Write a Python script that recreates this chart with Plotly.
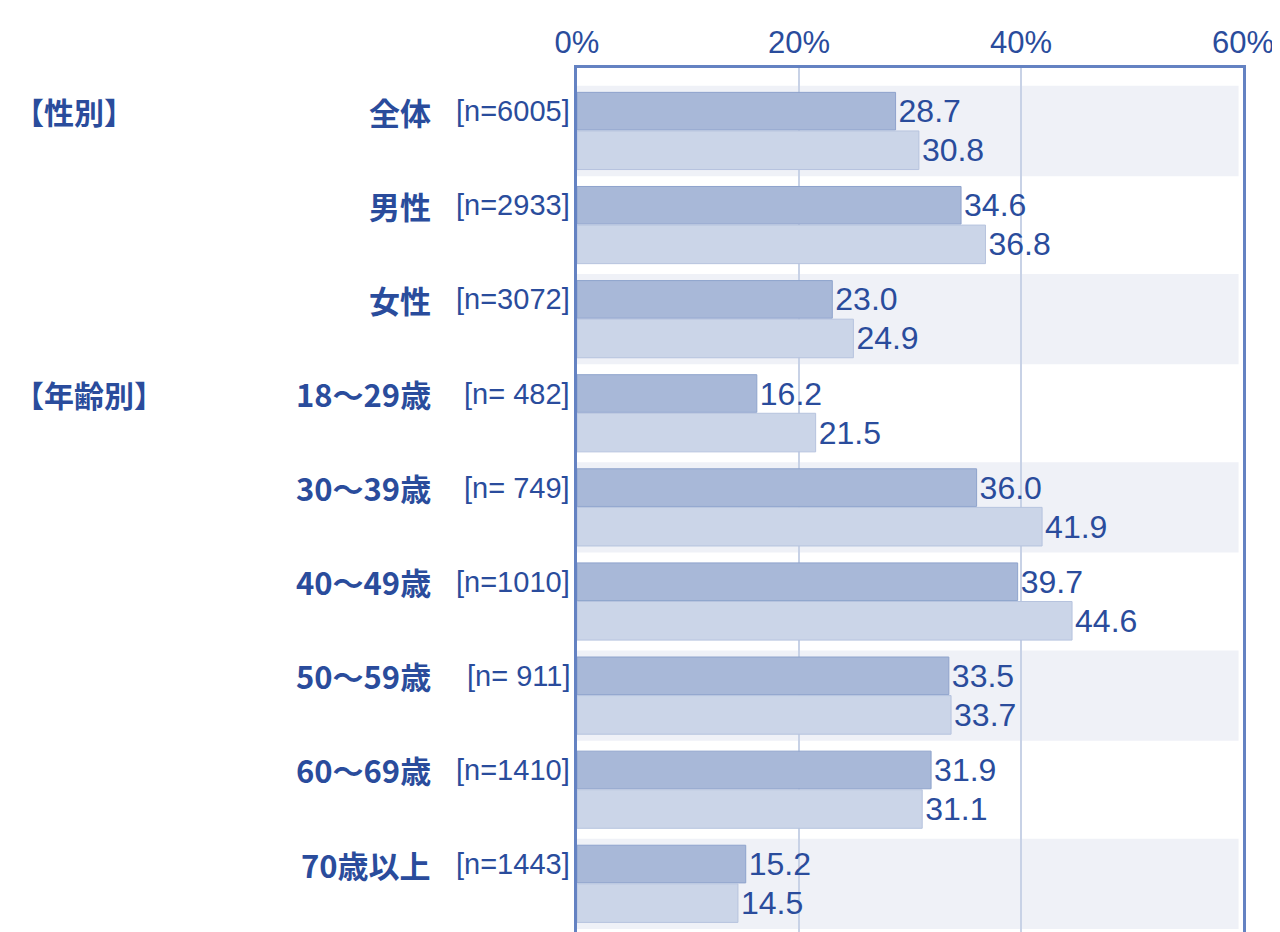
import plotly.graph_objects as go

categories = ["全体", "男性", "女性", "18～29歳", "30～39歳", "40～49歳", "50～59歳", "60～69歳", "70歳以上"]
sample_sizes = ["[n=6005]", "[n=2933]", "[n=3072]", "[n= 482]", "[n= 749]", "[n=1010]", "[n= 911]", "[n=1410]", "[n=1443]"]
series_a = [28.7, 34.6, 23.0, 16.2, 36.0, 39.7, 33.5, 31.9, 15.2]
series_b = [30.8, 36.8, 24.9, 21.5, 41.9, 44.6, 33.7, 31.1, 14.5]
section_labels = ["【性別】", "【年齢別】"]
section_rows = [0, 3]
tick_values = [0, 20, 40, 60]
tick_labels = ["0%", "20%", "40%", "60%"]

BLUE = "#2a4c9c"
LATIN = "Liberation Sans, Arial, sans-serif"
idx = list(range(len(categories)))

fig = go.Figure()
fig.add_trace(go.Bar(
    y=idx, x=series_a, orientation="h", width=0.40, offset=-0.41,
    marker=dict(color="#a8b8d8", line=dict(color="#8ea3cc", width=1)),
    text=series_a, texttemplate="%{x:.1f}", textposition="outside",
    textfont=dict(family=LATIN, size=32, color=BLUE),
    constraintext="none", cliponaxis=False, showlegend=False,
))
fig.add_trace(go.Bar(
    y=idx, x=series_b, orientation="h", width=0.41, offset=0.0,
    marker=dict(color="#cbd5e8", line=dict(color="#b6c3de", width=1)),
    text=series_b, texttemplate="%{x:.1f}", textposition="outside",
    textfont=dict(family=LATIN, size=32, color=BLUE),
    constraintext="none", cliponaxis=False, showlegend=False,
))

shapes = []
for i in idx:
    if i % 2 == 0:
        shapes.append(dict(type="rect", xref="x", yref="y", x0=0, x1=59.6,
                           y0=i - 0.48, y1=i + 0.48, fillcolor="#eff1f7",
                           line=dict(width=0), layer="below"))

annotations = []
for i, (c, n) in enumerate(zip(categories, sample_sizes)):
    annotations.append(dict(xref="paper", yref="y", x=-0.216, y=i - 0.21, text="<b>" + c + "</b>",
                            showarrow=False, xanchor="right", yanchor="middle",
                            font=dict(family="Noto Sans CJK JP", size=31, color=BLUE)))
    annotations.append(dict(xref="paper", yref="y", x=-0.008, y=i - 0.21, text=n,
                            showarrow=False, xanchor="right", yanchor="middle",
                            font=dict(family=LATIN, size=29, color=BLUE)))
for s, r in zip(section_labels, section_rows):
    annotations.append(dict(xref="paper", yref="y", x=-0.848, y=r - 0.21, text="<b>" + s + "</b>",
                            showarrow=False, xanchor="left", yanchor="middle",
                            font=dict(family="Noto Sans CJK JP", size=30, color=BLUE)))

fig.update_layout(
    width=1272, height=924,
    margin=dict(l=569, r=37, t=60, b=0),
    plot_bgcolor="white", paper_bgcolor="white",
    barmode="overlay",
    shapes=shapes, annotations=annotations,
    xaxis=dict(side="top", range=[0, 60], tickvals=tick_values, ticktext=tick_labels,
               showgrid=True, gridcolor="#c8d2e6", gridwidth=1.5, zeroline=False,
               showline=True, linecolor="#6482c2", linewidth=2.5,
               ticks="", ticklabelstandoff=0, ticklabeloverflow="allow",
               tickfont=dict(family=LATIN, size=31, color=BLUE)),
    yaxis=dict(range=[8.512, -0.669], showticklabels=False, showgrid=False, zeroline=False,
               showline=True, mirror=True, linecolor="#6482c2", linewidth=2.5, ticks=""),
)

fig.write_html("out.html")
